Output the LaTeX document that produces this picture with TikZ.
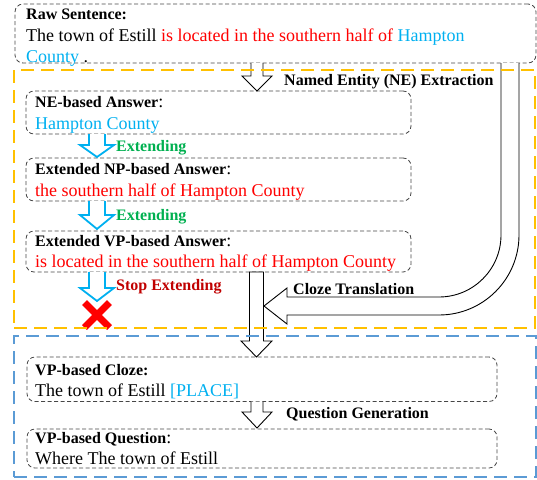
\documentclass[tikz,border=0pt]{standalone}
\usepackage{fontspec}
\setmainfont{Liberation Serif}
\usetikzlibrary{fit}
\definecolor{cy}{RGB}{0,176,240}
\definecolor{rd}{RGB}{255,0,0}
\definecolor{gr}{RGB}{0,176,80}
\definecolor{dr}{RGB}{192,0,0}
\definecolor{org}{RGB}{255,192,0}
\definecolor{blu}{RGB}{91,155,213}
\definecolor{bx}{RGB}{70,70,70}
\newcommand\hd[1]{{\fontsize{16}{19}\selectfont\bfseries #1}}
\begin{document}
\begin{tikzpicture}[x=1pt,y=-1pt,
  box/.style={draw=bx, line width=0.8pt, dash pattern=on 4pt off 2.5pt, rounded corners=8pt, inner sep=0pt},
  txt/.style={anchor=base west, inner sep=0pt, font=\fontsize{18}{21}\selectfont},
  lab/.style={anchor=base west, inner sep=0pt, font=\fontsize{16}{19}\selectfont\bfseries},
  wa/.style={draw=black, line width=0.9pt, fill=white, line join=miter},
  ba/.style={draw=cy, line width=1.8pt, fill=white, line join=miter},
  frameo/.style={draw=org, line width=2.5pt, dash pattern=on 13pt off 7pt, inner sep=0pt},
  frameb/.style={draw=blu, line width=2.5pt, dash pattern=on 13pt off 7pt, inner sep=0pt},
  cross/.style={draw=rd, line width=7pt}]
\useasboundingbox (0,0) rectangle (537,479);

% boxes
\node[box, fit={(15,4) (536,63)}] (raw) {};
\node[box, fit={(26,91) (411,134)}] (neb) {};
\node[box, fit={(26,158) (411,201)}] (npb) {};
\node[box, fit={(26,231) (411,272)}] (vpb) {};
\node[box, fit={(27,357) (497,401.5)}] (clz) {};
\node[box, fit={(27,429) (497,468)}] (qst) {};

% big white arrows
\draw[wa] (251,63) -- (251,76) -- (242,76) -- (257,91) -- (272,76) -- (263,76) -- (263,63);
\draw[wa] (249.5,272) -- (249.5,341) -- (241,341) -- (256.5,357) -- (272,341) -- (263.5,341) -- (263.5,272) -- cycle;
\draw[wa] (251,401.5) -- (251,412) -- (242,412) -- (257,428) -- (272,412) -- (263,412) -- (263,401.5);
\draw[wa] (501,63) -- (501,235) arc[start angle=0, end angle=90, radius=62]
  -- (287,297) -- (287,288) -- (264,306) -- (287,324) -- (287,315) -- (439,315)
  arc[start angle=90, end angle=0, radius=80] -- (519,63);

% blue arrows
\draw[ba] (89,134) -- (89,145) -- (80,145) -- (97,157) -- (114,145) -- (105,145) -- (105,134);
\draw[ba] (89,201) -- (89,215) -- (80,215) -- (97,229) -- (114,215) -- (105,215) -- (105,201);
\draw[ba] (89,272) -- (89,288) -- (80,288) -- (97,301) -- (114,288) -- (105,288) -- (105,272);

% red cross
\coordinate (xc) at (97,315);
\draw[cross] (84.5,302.5) -- (109.5,327.5);
\draw[cross] (84.5,327.5) -- (109.5,302.5);

% frames
\node[frameo, fit={(14,70) (535,328)}] (fo) {};
\node[frameb, fit={(14,336) (536,477)}] (fb) {};

% texts
\node[lab] (t1) at (26,19) {Raw Sentence:};
\node[txt] (t2) at (26,41) {The town of Estill \textcolor{rd}{is located in the southern half of} \textcolor{cy}{Hampton}};
\node[txt] (t3) at (26,62) {\textcolor{cy}{County} .};
\node[txt] (t4) at (35,107) {\hd{NE-based Answer}:};
\node[txt] (t5) at (35,129) {\textcolor{cy}{Hampton County}};
\node[txt] (t6) at (35,174) {\hd{Extended NP-based Answer}:};
\node[txt] (t7) at (35,196) {\textcolor{rd}{the southern half of Hampton County}};
\node[txt] (t8) at (35,246.5) {\hd{Extended VP-based Answer}:};
\node[txt] (t9) at (35,267.5) {\textcolor{rd}{is located in the southern half of Hampton County}};
\node[txt] (t10) at (35,375) {\hd{VP-based Cloze:}};
\node[txt] (t11) at (35,396) {The town of Estill \textcolor{cy}{[PLACE]}};
\node[txt] (t12) at (35,443) {\hd{VP-based Question}:};
\node[txt] (t13) at (35,464) {Where The town of Estill};

\node[lab] (l1) at (284,85) {Named Entity (NE) Extraction};
\node[lab, text=gr] (l2) at (116,151) {Extending};
\node[lab, text=gr] (l3) at (116,220) {Extending};
\node[lab, text=dr] (l4) at (116,290) {Stop Extending};
\node[lab] (l5) at (293,294) {Cloze Translation};
\node[lab] (l6) at (286,418.5) {Question Generation};
\end{tikzpicture}
\end{document}
